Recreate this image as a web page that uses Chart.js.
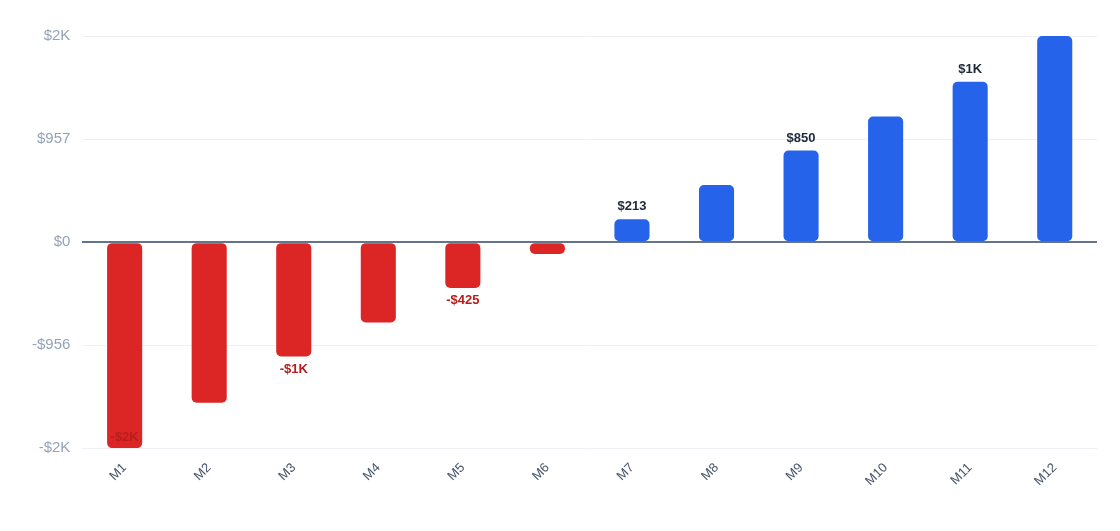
<!DOCTYPE html>
<html>
<head>
<meta charset="utf-8">
<script src="https://cdn.jsdelivr.net/npm/chart.js@4"></script>
<style>
  html, body { margin: 0; padding: 0; background: #fff; }
  #wrap { width: 1120px; height: 531px; }
</style>
</head>
<body>
<div id="wrap"><canvas id="chart"></canvas></div>
<script>
// ── Data ──────────────────────────────────────────────────────────────────────
const months = ['M1','M2','M3','M4','M5','M6','M7','M8','M9','M10','M11','M12'];
const netValues = [-1912, -1490, -1062, -746, -425, -110, 213, 530, 850, 1167, 1490, 1914];
const yMin = -1912;
const yMax = 1914;
const yTicks = [yMin, yMin / 2, 0, yMax / 2, yMax];

function money(v) {
  const a = Math.abs(v);
  const s = a >= 1000 ? '$' + Math.round(a / 1000) + 'K' : '$' + Math.round(a);
  return (v < 0 ? '-' : '') + s;
}

// ── Value labels on every other bar ──────────────────────────────────────────
const valueLabels = {
  id: 'valueLabels',
  afterDatasetsDraw(chart) {
    const { ctx, chartArea } = chart;
    const meta = chart.getDatasetMeta(0);
    ctx.save();
    ctx.font = "bold 13px 'Helvetica Neue', Arial, sans-serif";
    ctx.textAlign = 'center';
    meta.data.forEach((bar, i) => {
      if (i % 2) return;
      const v = netValues[i];
      let y;
      if (v >= 0) {
        ctx.fillStyle = '#1e293b';
        ctx.textBaseline = 'bottom';
        y = Math.max(bar.y - 6, chartArea.top + 14);
      } else {
        ctx.fillStyle = '#b91c1c';
        ctx.textBaseline = 'top';
        y = Math.min(bar.y + 6, chartArea.bottom - 17);
      }
      ctx.fillText(money(v), bar.x, y);
    });
    ctx.restore();
  }
};

new Chart(document.getElementById('chart'), {
  type: 'bar',
  data: {
    labels: months,
    datasets: [{
      data: netValues,
      backgroundColor: netValues.map(v => v < 0 ? '#dc2626' : '#2563eb'),
      borderRadius: 5,
      borderSkipped: false,
      categoryPercentage: 1,
      barPercentage: 0.415,
    }]
  },
  options: {
    responsive: true,
    maintainAspectRatio: false,
    animation: false,
    layout: { padding: { top: 36, right: 23, left: 20, bottom: 38 } },
    plugins: { legend: { display: false }, tooltip: { enabled: false } },
    scales: {
      x: {
        grid: { display: false },
        border: { display: false },
        ticks: {
          color: '#475569',
          font: { size: 13, family: "'Helvetica Neue', Arial, sans-serif" },
          minRotation: 45, maxRotation: 45,
          padding: 4,
        },
      },
      y: {
        min: yMin,
        max: yMax,
        afterBuildTicks: axis => { axis.ticks = yTicks.map(v => ({ value: v })); },
        border: { display: false },
        grid: {
          color: c => c.tick && c.tick.value === 0 ? '#64748b' : '#eef0f5',
          lineWidth: c => c.tick && c.tick.value === 0 ? 2 : 1,
          drawTicks: false,
        },
        ticks: {
          color: '#94a3b8',
          font: { size: 15, family: "'Helvetica Neue', Arial, sans-serif" },
          padding: 12,
          callback: v => money(v),
        },
      }
    }
  },
  plugins: [valueLabels]
});
</script>
</body>
</html>
